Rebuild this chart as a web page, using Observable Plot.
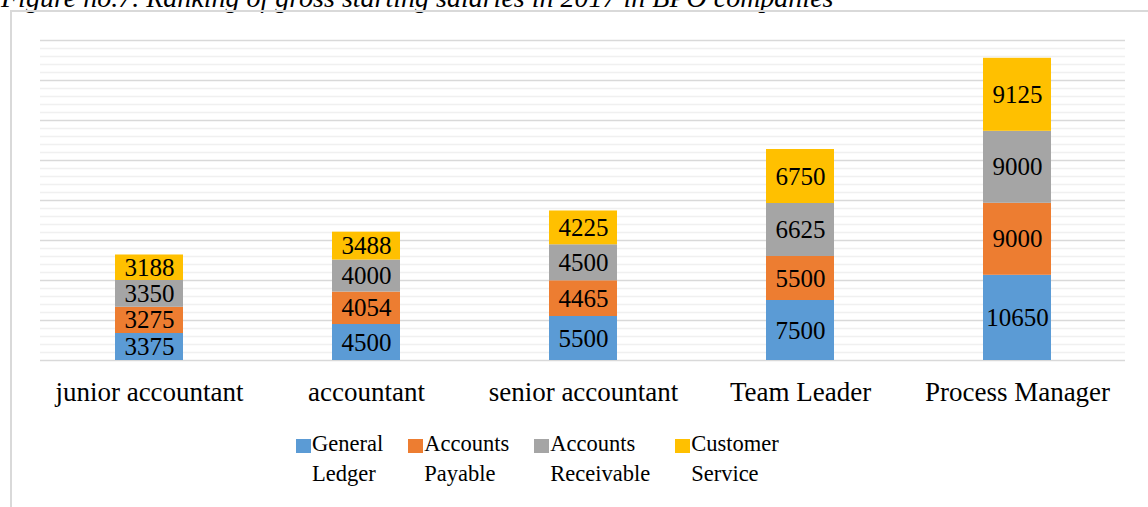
<!DOCTYPE html>
<html>
<head>
<meta charset="utf-8">
<script src="https://cdn.jsdelivr.net/npm/d3@7"></script>
<script src="https://cdn.jsdelivr.net/npm/@observablehq/plot@0.6"></script>
<style>
  html, body { margin: 0; padding: 0; background: #fff; }
  #wrap { position: relative; width: 1148px; height: 507px; overflow: hidden; background: #fff;
          font-family: "Liberation Serif", "Times New Roman", serif; }
  #title { position: absolute; left: 1px; top: -18px; font-size: 28px; line-height: 32px; font-style: italic; white-space: nowrap; color: #000; }
  #frame { position: absolute; left: 10px; top: 10px; width: 1200px; height: 600px;
           border-left: 2px solid #d9d9d9; border-top: 2px solid #d9d9d9; }
  #chart { position: absolute; left: 0; top: 0; }
  #legend { position: absolute; left: 296px; top: 429px; display: flex; gap: 25px; font-size: 22.5px; line-height: 30px; color: #000; }
  .item { display: flex; align-items: flex-start; }
  .sw { width: 15px; height: 14px; margin-top: 10px; margin-right: 1px; flex: none; }
</style>
</head>
<body>
<div id="wrap">
  <div id="title">Figure no.7. Ranking of gross starting salaries in 2017 in BPO companies</div>
  <div id="frame"></div>
  <div id="chart"></div>
  <div id="legend"></div>
</div>
<script>
const categories = ["junior accountant", "accountant", "senior accountant", "Team Leader", "Process Manager"];
const series = ["General Ledger", "Accounts Payable", "Accounts Receivable", "Customer Service"];
const colors = ["#5B9BD5", "#ED7D31", "#A5A5A5", "#FFC000"];
const generalLedger      = [3375, 4500, 5500, 7500, 10650];
const accountsPayable    = [3275, 4054, 4465, 5500, 9000];
const accountsReceivable = [3350, 4000, 4500, 6625, 9000];
const customerService    = [3188, 3488, 4225, 6750, 9125];
const yMax = 40000;
const minorStep = 1000;
const majorStep = 5000;

const seriesValues = [generalLedger, accountsPayable, accountsReceivable, customerService];
const data = [];
seriesValues.forEach((vals, si) => {
  vals.forEach((v, ci) => data.push({cat: categories[ci], series: series[si], value: v}));
});

const font = '"Liberation Serif", "Times New Roman", serif';

const plot = Plot.plot({
  width: 1148,
  height: 440,
  marginTop: 40,
  marginBottom: 80,
  marginLeft: 40,
  marginRight: 23,
  style: {fontFamily: font, background: "transparent", overflow: "visible"},
  x: {domain: categories, paddingInner: 0.687, paddingOuter: 0.3435, label: null},
  y: {domain: [0, yMax], axis: null},
  color: {domain: series, range: colors},
  marks: [
    Plot.ruleY(d3.range(0, yMax + 1, minorStep).filter(v => v % majorStep !== 0), {stroke: "#f0f0f0", strokeWidth: 1.5}),
    Plot.ruleY(d3.range(0, yMax + 1, majorStep), {stroke: "#d9d9d9", strokeWidth: 1.5}),
    Plot.barY(data, {x: "cat", y: "value", fill: "series", order: series}),
    Plot.text(data, Plot.stackY({x: "cat", y: "value", z: "series", order: series, text: d => String(d.value),
      fill: "#000", fontSize: 25, textAnchor: "middle"})),
    Plot.axisX({tickSize: 0, tickPadding: 21, fontSize: 27, fill: "#000", label: null})
  ]
});
document.getElementById("chart").appendChild(plot);

const legend = document.getElementById("legend");
series.forEach((s, i) => {
  const item = document.createElement("div");
  item.className = "item";
  const sw = document.createElement("div");
  sw.className = "sw";
  sw.style.background = colors[i];
  const txt = document.createElement("div");
  txt.innerHTML = s.split(" ").join("<br>");
  item.appendChild(sw);
  item.appendChild(txt);
  legend.appendChild(item);
});
</script>
</body>
</html>
